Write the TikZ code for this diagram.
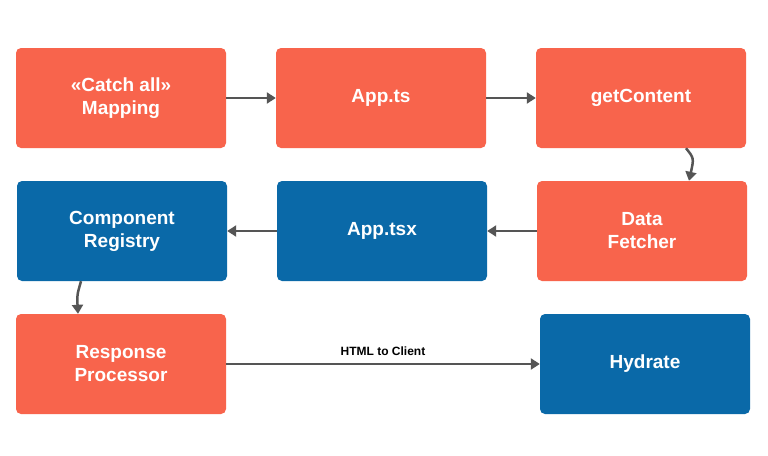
\documentclass[tikz,border=0pt]{standalone}
\usepackage{fontspec}
\setmainfont{Liberation Sans}
\usetikzlibrary{arrows.meta}
\definecolor{cred}{HTML}{F8644C}
\definecolor{cblue}{HTML}{0A69A8}
\definecolor{carr}{HTML}{555555}
\begin{document}
\begin{tikzpicture}[x=1pt,y=-1pt,
 box/.style={minimum width=210pt,minimum height=100pt,rounded corners=5pt,text=white,font=\fontsize{19}{23}\selectfont\bfseries,align=center,inner sep=0pt},
 rbox/.style={box,fill=cred},
 bbox/.style={box,fill=cblue},
 arr/.style={draw=carr,line width=2.5pt,-{Triangle[length=9pt,width=11pt]}}]
\useasboundingbox[fill=white] (0,0) rectangle (768,455);
\node[rbox] (catch) at (121,98) {«Catch all»\\Mapping};
\node[rbox] (appts) at (381,98) {App.ts};
\node[rbox] (getc) at (641,98) {getContent};
\node[bbox] (reg) at (122,231) {Component\\Registry};
\node[bbox] (apptsx) at (382,231) {App.tsx};
\node[rbox] (fetch) at (642,231) {Data\\Fetcher};
\node[rbox] (resp) at (121,364) {Response\\Processor};
\node[bbox] (hyd) at (645,364) {Hydrate};
\draw[arr] (catch.east) -- (appts.west);
\draw[arr] (appts.east) -- (getc.west);
\draw[arr] (fetch.west) -- (apptsx.east);
\draw[arr] (apptsx.west) -- (reg.east);
\draw[arr] (resp.east) -- node[above=4pt,text=black,font=\fontsize{12}{14}\selectfont\bfseries] {HTML to Client} (hyd.west);
\draw[arr] ([xshift=45pt]getc.south) .. controls +(8,10) .. ([xshift=47pt]fetch.north);
\draw[arr] ([xshift=-41pt]reg.south) .. controls +(-4,14) .. ([xshift=-43pt]resp.north);
\end{tikzpicture}
\end{document}
